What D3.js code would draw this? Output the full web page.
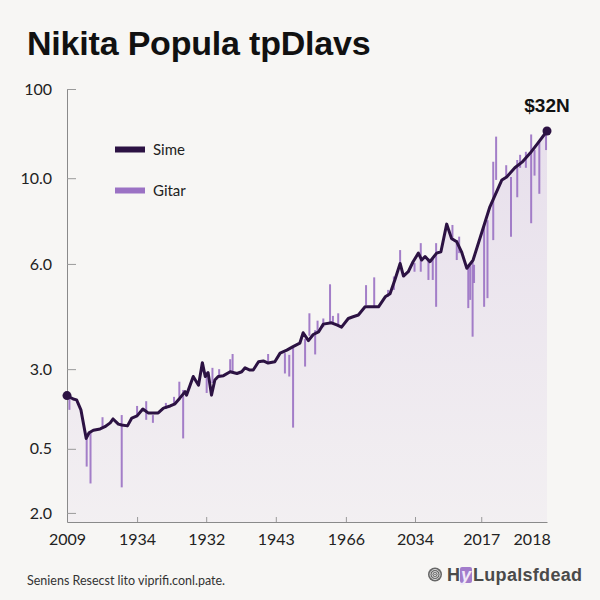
<!DOCTYPE html>
<html>
<head>
<meta charset="utf-8">
<script src="https://cdn.jsdelivr.net/npm/d3@7"></script>
<style>
  html, body { margin: 0; padding: 0; background: #f7f6f4; }
  svg { display: block; }
</style>
</head>
<body>
<svg id="chart" width="600" height="600"></svg>
<script>
// ---------- DATA ----------
const titleText = "Nikita Popula tpDlavs";
const seriesNames = ["Sime", "Gitar"];
const endLabel = "$32N";
const footnote = "Seniens Resecst lito viprifi.conl.pate.";

const xTickVals = [0, 14.6, 29.0, 43.5, 58.1, 72.5, 86.3, 96.8];
const xTickLabels = ["2009", "1934", "1932", "1943", "1966", "2034", "2017", "2018"];
const yTickVals = [2.1, 16.9, 35.3, 59.6, 79.4, 100];
const yTickLabels = ["2.0", "0.5", "3.0", "6.0", "10.0", "100"];

// Sime (main line): position along x and value
const simeT = [0, 1.3, 2.0, 2.9, 4.0, 4.6, 5.5, 6.9, 7.9, 9.0, 9.6, 10.7, 11.4, 12.6, 13.5, 14.6, 15.8, 16.9, 18.0, 19.0,
  20.1, 21.5, 22.5, 23.5, 24.6, 24.9, 26.3, 27.4, 28.2, 28.8, 29.4, 30.1, 30.8, 31.5, 32.6, 34.0, 35.4, 36.4, 37.1, 38.1,
  38.8, 39.9, 40.9, 41.9, 43.3, 44.4, 45.8, 47.1, 48.5, 49.2, 50.3, 51.3, 52.4, 53.4, 55.1, 56.2, 57.2, 58.6, 59.6, 60.7,
  62.1, 64.9, 66.3, 67.3, 68.3, 69.4, 70.1, 71.1, 72.1, 73.2, 73.9, 74.6, 75.6, 77.0, 77.9, 79.1, 80.1, 81.2, 82.2, 83.3,
  84.6, 88.1, 90.6, 91.6, 93.3, 94.8, 96.5, 98.1, 100];
const simeV = [29.2, 28.4, 28.2, 25.9, 19.3, 20.6, 21.2, 21.5, 22.0, 22.9, 23.8, 22.6, 22.4, 22.2, 24.0, 24.5, 26.1, 25.2, 25.2, 25.2,
  26.3, 26.8, 27.3, 28.6, 30.1, 29.3, 33.6, 31.6, 36.8, 33.6, 34.5, 29.3, 32.8, 33.6, 33.8, 34.7, 34.3, 34.7, 35.6, 35.1,
  35.1, 37.0, 37.2, 36.7, 37.0, 39.0, 39.7, 40.5, 41.3, 43.7, 41.9, 43.3, 43.9, 45.7, 46.0, 45.5, 45.0, 47.0, 47.4, 47.8,
  49.7, 49.7, 52.0, 52.7, 55.9, 59.7, 56.8, 57.8, 60.1, 62.1, 60.5, 61.3, 60.1, 62.1, 62.4, 68.8, 65.5, 64.7, 62.4, 58.6,
  60.5, 72.8, 79.0, 79.7, 81.8, 83.1, 85.2, 87.5, 90.3];

// Gitar (vertical spikes): position, high and low value
const gitarT = [0.5, 4.1, 4.9, 7.4, 11.4, 14.6, 16.5, 17.9, 20.6, 22.3, 23.4, 24.2, 28.1, 29.1, 30.3, 31.7, 34.0, 34.5, 41.9, 45.4,
  46.3, 47.1, 49.6, 50.5, 51.7, 52.2, 53.4, 54.8, 55.4, 56.5, 62.3, 64.0, 66.9, 68.1, 69.4, 72.4, 73.7, 75.3, 76.2, 76.9,
  80.3, 81.2, 81.7, 83.6, 84.0, 84.5, 84.8, 86.9, 87.6, 88.8, 89.4, 91.5, 92.5, 93.8, 94.4, 95.6, 96.7, 97.4, 98.4, 99.8];
const gitarHi = [29.3, 19.4, 20.6, 24.2, 24.7, 26.8, 27.9, 24.7, 27.5, 28.9, 32.4, 30.5, 36.7, 34.7, 35.6, 35.3, 37.6, 38.8, 38.8, 39.0,
  38.6, 40.2, 42.3, 48.2, 44.3, 46.5, 47.0, 54.9, 47.6, 48.2, 54.7, 56.5, 53.6, 56.7, 62.8, 59.8, 64.4, 60.9, 61.0, 64.4,
  68.6, 65.1, 65.9, 59.0, 59.1, 60.5, 59.4, 69.0, 69.7, 83.2, 89.0, 82.4, 79.7, 83.6, 84.8, 85.5, 89.5, 85.9, 87.8, 89.8];
const gitarLo = [25.9, 12.8, 8.9, 21.7, 8.0, 24.5, 23.6, 22.9, 26.1, 27.0, 28.6, 19.3, 34.6, 29.8, 32.1, 33.9, 34.7, 34.6, 36.7, 34.3,
  33.6, 21.8, 35.9, 43.0, 38.7, 43.9, 45.0, 46.0, 46.0, 45.5, 50.1, 49.7, 52.0, 53.6, 59.7, 57.8, 57.8, 55.9, 55.9, 49.7,
  65.1, 60.5, 62.1, 49.4, 51.3, 42.8, 55.2, 49.7, 51.7, 65.1, 79.0, 79.7, 65.9, 75.0, 81.8, 81.8, 69.0, 80.0, 75.8, 85.9];

// ---------- DRAW ----------
(function () {
const svg = d3.select("#chart");
const W = 600, H = 600;
const mLeft = 67, mRight = 547, mTop = 89, mBottom = 522;

const x = d3.scaleLinear().domain([0, 100]).range([mLeft, mRight]);
const y = d3.scaleLinear().domain([0, 100]).range([mBottom, mTop]);

const sime = simeT.map((t, i) => ({ t, v: simeV[i] }));
const gitar = gitarT.map((t, i) => ({ t, hi: gitarHi[i], lo: gitarLo[i] }));

const darkPurple = "#2c1243";
const lightPurple = "#9b72c4";

svg.append("rect").attr("width", W).attr("height", H).attr("fill", "#f7f6f4");

const defs = svg.append("defs");
const grad = defs.append("linearGradient").attr("id", "areaGrad")
  .attr("x1", 0).attr("y1", 0).attr("x2", 0).attr("y2", 1);
grad.append("stop").attr("offset", "0%").attr("stop-color", "#9b72c4").attr("stop-opacity", 0.17);
grad.append("stop").attr("offset", "100%").attr("stop-color", "#9b72c4").attr("stop-opacity", 0.05);

svg.append("text")
  .attr("x", 27).attr("y", 55)
  .attr("font-family", "Liberation Sans, Arial, sans-serif")
  .attr("font-weight", "bold").attr("font-size", 34)
  .attr("letter-spacing", -0.2)
  .attr("fill", "#111")
  .text(titleText);

const area = d3.area().x(d => x(d.t)).y0(y(0)).y1(d => y(d.v));
svg.append("path").datum(sime).attr("d", area).attr("fill", "url(#areaGrad)");

const yAxis = d3.axisLeft(y).tickValues(yTickVals)
  .tickFormat((d, i) => yTickLabels[i]).tickSizeInner(-9).tickSizeOuter(0).tickPadding(15);
const gy = svg.append("g").attr("transform", `translate(${mLeft},0)`).call(yAxis);
gy.select(".domain").attr("stroke", "#8a8a8a");
gy.selectAll(".tick line").attr("stroke", "#9a9a9a");
gy.selectAll(".tick text")
  .attr("font-family", "Lato, sans-serif").attr("font-size", 16).attr("fill", "#222");

const xAxis = d3.axisBottom(x).tickValues(xTickVals)
  .tickFormat((d, i) => xTickLabels[i]).tickSizeInner(-5).tickSizeOuter(0).tickPadding(12);
const gx = svg.append("g").attr("transform", `translate(0,${mBottom})`).call(xAxis);
gx.select(".domain").attr("stroke", "#8a8a8a");
gx.selectAll(".tick line").attr("stroke", "#9a9a9a")
  .attr("opacity", (d, i) => i === xTickVals.length - 1 || i === 0 ? 0 : 1);
gx.selectAll(".tick text")
  .attr("font-family", "Lato, sans-serif").attr("font-size", 16).attr("fill", "#222");

svg.append("g").selectAll("line").data(gitar).join("line")
  .attr("x1", d => x(d.t)).attr("x2", d => x(d.t))
  .attr("y1", d => y(d.hi)).attr("y2", d => y(d.lo))
  .attr("stroke", lightPurple).attr("stroke-width", 2).attr("opacity", 0.9);

const line = d3.line().x(d => x(d.t)).y(d => y(d.v));
svg.append("path").datum(sime).attr("d", line)
  .attr("fill", "none").attr("stroke", darkPurple)
  .attr("stroke-width", 3).attr("stroke-linejoin", "round").attr("stroke-linecap", "round");

svg.append("g").selectAll("circle").data([sime[0], sime[sime.length - 1]]).join("circle")
  .attr("cx", d => x(d.t)).attr("cy", d => y(d.v)).attr("r", 4.5).attr("fill", darkPurple);

svg.append("text")
  .attr("x", x(sime[sime.length - 1].t)).attr("y", 111.5)
  .attr("text-anchor", "middle")
  .attr("font-family", "Liberation Sans, Arial, sans-serif")
  .attr("font-weight", "bold").attr("font-size", 19).attr("fill", "#111")
  .text(endLabel);

const legend = svg.append("g");
[darkPurple, lightPurple].forEach((c, i) => {
  const ly = 149.5 + i * 41;
  legend.append("rect").attr("x", 115).attr("y", ly - 3).attr("width", 30).attr("height", 6).attr("fill", c);
  legend.append("text").attr("x", 153).attr("y", ly + 5.5)
    .attr("font-family", "Lato, sans-serif").attr("font-size", 15).attr("fill", "#222")
    .text(seriesNames[i]);
});

svg.append("text").attr("x", 27).attr("y", 585)
  .attr("font-family", "Lato, sans-serif").attr("font-size", 12.5).attr("fill", "#333")
  .text(footnote);

const logo = svg.append("g");
[7, 5, 3, 1.2].forEach((r, i) => {
  logo.append("circle").attr("cx", 435).attr("cy", 574.5).attr("r", r)
    .attr("fill", i === 0 ? "#666" : "none").attr("stroke", i === 0 ? "none" : "#ddd").attr("stroke-width", 1);
});
logo.append("rect").attr("x", 460).attr("y", 567).attr("width", 12).attr("height", 16).attr("rx", 2)
  .attr("fill", "#a27ccb");
const lt = logo.append("text").attr("x", 447).attr("y", 581)
  .attr("font-family", "Liberation Sans, Arial, sans-serif").attr("font-weight", "bold")
  .attr("font-size", 18).attr("fill", "#4a4a4a");
lt.append("tspan").text("H");
lt.append("tspan").attr("x", 461).attr("fill", "#f1e9f8").attr("font-style", "italic").text("y");
lt.append("tspan").attr("x", 473).attr("textLength", 109).text("Lupalsfdead");
})();
</script>
</body>
</html>
